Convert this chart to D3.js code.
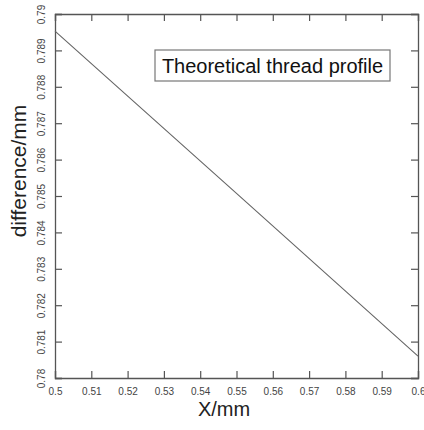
<!DOCTYPE html>
<html><head><meta charset="utf-8">
<script src="https://cdn.jsdelivr.net/npm/d3@7"></script>
<style>body{margin:0;background:#fff}svg{display:block}</style>
</head><body>
<script>
const xValues = [0.5, 0.55, 0.6];
const yValues = [0.78953, 0.78507, 0.78060];
const xTicks = [0.5,0.51,0.52,0.53,0.54,0.55,0.56,0.57,0.58,0.59,0.6];
const yTicks = [0.78,0.781,0.782,0.783,0.784,0.785,0.786,0.787,0.788,0.789,0.79];
const legendLabel = "Theoretical thread profile";

const W=424,H=430, L=55,T=14,R=418,B=378;
const svg=d3.select("body").append("svg").attr("width",W).attr("height",H);
const x=d3.scaleLinear().domain([0.5,0.6]).range([L,R]);
const y=d3.scaleLinear().domain([0.78,0.79]).range([B,T]);
const ax="#555";
const fmt=d=>d3.format("")(+d.toFixed(3));

const gb=svg.append("g").attr("transform",`translate(0,${B})`)
  .call(d3.axisBottom(x).tickValues(xTicks).tickSize(-7).tickPadding(10).tickFormat(fmt));
const gt=svg.append("g").attr("transform",`translate(0,${T})`)
  .call(d3.axisTop(x).tickValues(xTicks).tickSize(-7).tickFormat(""));
const gl=svg.append("g").attr("transform",`translate(${L},0)`)
  .call(d3.axisLeft(y).tickValues(yTicks).tickSize(-7).tickPadding(8).tickFormat(fmt));
const gr=svg.append("g").attr("transform",`translate(${R},0)`)
  .call(d3.axisRight(y).tickValues(yTicks).tickSize(-7).tickFormat(""));
[gb,gt,gl,gr].forEach(g=>{
  g.select(".domain").attr("stroke",ax).attr("stroke-width",1.3);
  g.selectAll(".tick line").attr("stroke",ax).attr("stroke-width",1.2);
});
gb.selectAll(".tick text").attr("font-family","Liberation Sans, Arial").attr("font-size",10).attr("fill","#444");
gl.selectAll(".tick text").attr("font-family","Liberation Sans, Arial").attr("font-size",10).attr("fill","#444")
  .attr("text-anchor","middle").attr("dy",null)
  .attr("transform","translate(-14,0) rotate(-90)")
  .attr("x",0).attr("y",0).attr("dominant-baseline","central");

const data=xValues.map((v,i)=>[v,yValues[i]]);
svg.append("path").datum(data).attr("fill","none").attr("stroke","#666").attr("stroke-width",1.1)
  .attr("d",d3.line().x(d=>x(d[0])).y(d=>y(d[1])));

svg.append("rect").attr("x",155).attr("y",50).attr("width",235).attr("height",31)
  .attr("fill","#fff").attr("stroke","#777").attr("stroke-width",1.2);
svg.append("text").attr("x",272.5).attr("y",72.5).attr("text-anchor","middle")
  .attr("font-family","Liberation Sans, Arial").attr("font-size",20).attr("fill","#111").text(legendLabel);

svg.append("text").attr("x",224).attr("y",416).attr("text-anchor","middle")
  .attr("font-family","Liberation Sans, Arial").attr("font-size",20).attr("fill","#222").text("X/mm");
svg.append("text").attr("transform",`translate(26,171) rotate(-90)`).attr("text-anchor","middle")
  .attr("font-family","Liberation Sans, Arial").attr("font-size",21).attr("fill","#222").text("difference/mm");
</script>
</body></html>
